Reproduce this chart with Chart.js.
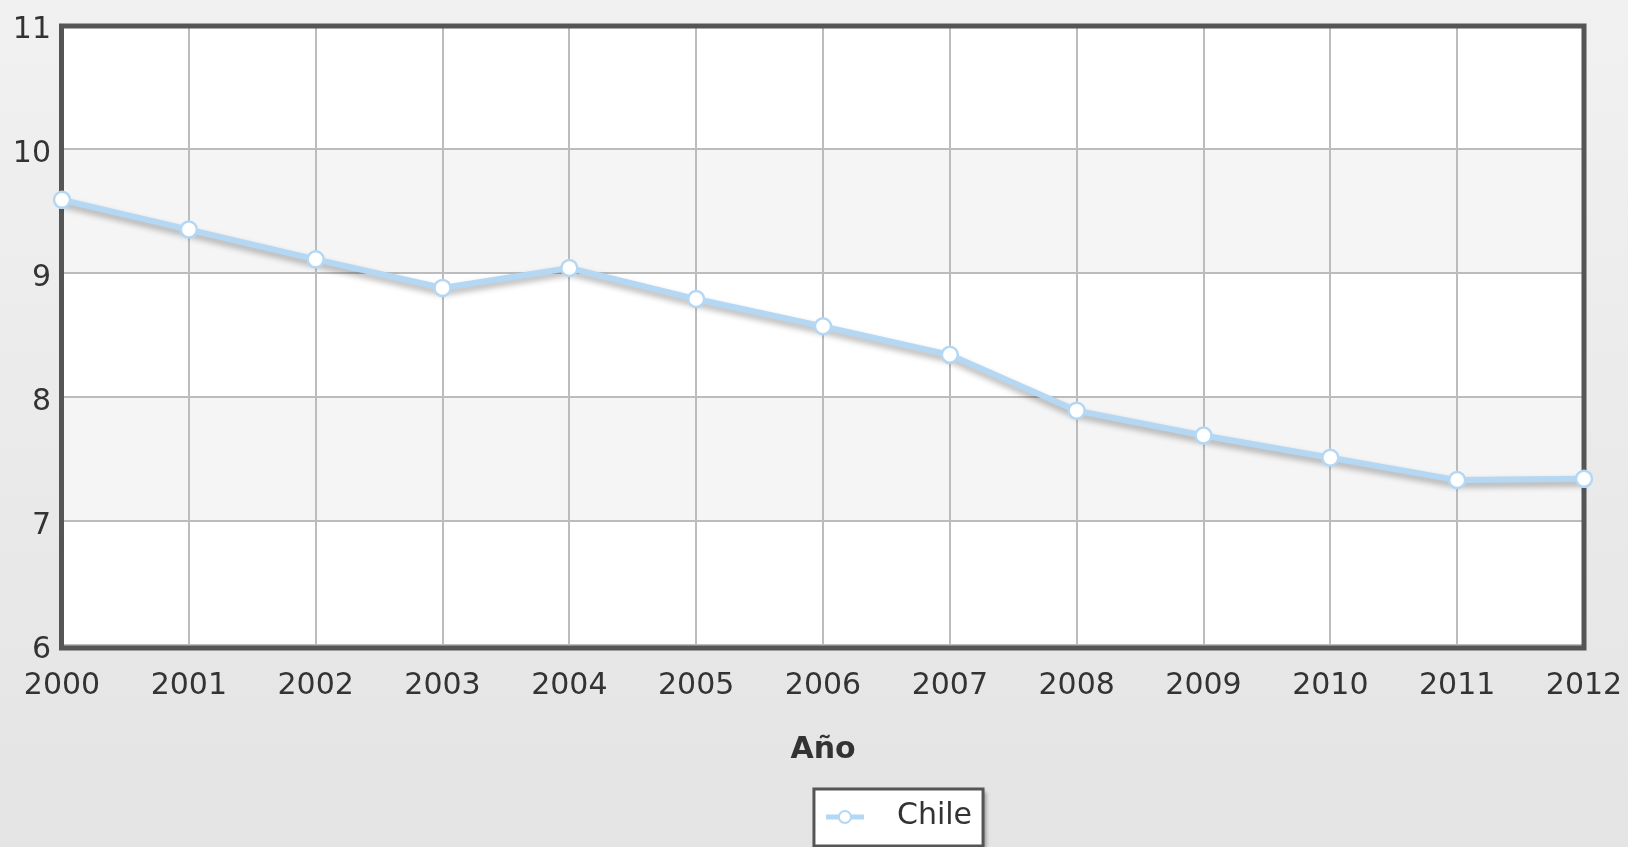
<!DOCTYPE html>
<html>
<head>
<meta charset="utf-8">
<script src="https://cdn.jsdelivr.net/npm/chart.js@4.4.1/dist/chart.umd.min.js"></script>
<style>
  html, body { margin: 0; padding: 0; }
  body { width: 1628px; height: 847px; overflow: hidden;
         background: linear-gradient(to bottom, #f1f1f1 0%, #e4e4e4 100%); }
  #wrap { position: absolute; left: 0; top: 0; width: 1628px; height: 847px; }
</style>
</head>
<body>
<div id="wrap"><canvas id="c" width="1628" height="847"></canvas></div>
<script>
// ---- data ----
const years = ['2000','2001','2002','2003','2004','2005','2006','2007','2008','2009','2010','2011','2012'];
const chileValues = [9.59, 9.35, 9.11, 8.88, 9.04, 8.79, 8.57, 8.34, 7.89, 7.69, 7.51, 7.33, 7.34];
const seriesLabel = 'Chile';
const xAxisTitle = 'Año';
const yMin = 6;
const yMax = 11;
const yStep = 1;

// ---- styles ----
const FONT = 'DejaVu Sans, Verdana, sans-serif';
const LINE_COLOR = '#b4d7f4';
const TEXT_COLOR = '#333333';
const FRAME_COLOR = '#555555';
const GRID_COLOR = '#bcbcbc';
const LEGEND_SHIFT = 107;

// shadow only under the line itself (not the point markers)
const origLineDraw = Chart.LineElement.prototype.draw;
Chart.LineElement.prototype.draw = function (ctx, area) {
  ctx.save();
  ctx.shadowColor = 'rgba(0,0,0,0.32)';
  ctx.shadowBlur = 6;
  ctx.shadowOffsetX = 0;
  ctx.shadowOffsetY = 4;
  origLineDraw.call(this, ctx, area);
  ctx.restore();
};

const bandsPlugin = {
  id: 'bands',
  beforeDraw(chart) {
    const {ctx, chartArea: ca, scales: {y}} = chart;
    ctx.save();
    ctx.fillStyle = '#ffffff';
    ctx.fillRect(ca.left, ca.top, ca.right - ca.left, ca.bottom - ca.top);
    const ticks = y.ticks.map(t => t.value).sort((a, b) => a - b);
    for (let i = 0; i < ticks.length - 1; i++) {
      if (i % 2 === 1) {
        const yb = y.getPixelForValue(ticks[i]);
        const yt = y.getPixelForValue(ticks[i + 1]);
        ctx.fillStyle = '#f5f5f5';
        ctx.fillRect(ca.left, yt, ca.right - ca.left, yb - yt);
      }
    }
    ctx.restore();
  },
  beforeDatasetsDraw(chart) {
    const {ctx, chartArea: ca} = chart;
    ctx.save();
    ctx.strokeStyle = FRAME_COLOR;
    ctx.lineWidth = 5;
    ctx.strokeRect(ca.left - 0.5, ca.top + 1, ca.right - ca.left + 0.5, ca.bottom - ca.top + 2);
    ctx.restore();
  },
  afterLayout(chart) {
    if (chart.legend) {
      chart.legend.left += LEGEND_SHIFT;
      chart.legend.right += LEGEND_SHIFT;
    }
  },
  afterDraw(chart) {
    const lg = chart.legend;
    if (!lg || !lg.legendHitBoxes || !lg.legendHitBoxes.length) return;
    const hb = lg.legendHitBoxes[0];
    const ctx = chart.ctx;
    const cy = hb.top + hb.height / 2;
    // frame
    ctx.save();
    const fx = hb.left - 12, fy = hb.top - 18;
    const fw = hb.width + 23, fh = 846 - fy;
    ctx.shadowColor = 'rgba(0,0,0,0.35)';
    ctx.shadowBlur = 4;
    ctx.shadowOffsetX = 3;
    ctx.shadowOffsetY = 3;
    ctx.fillStyle = '#ffffff';
    ctx.fillRect(fx, fy, fw, fh);
    ctx.shadowColor = 'rgba(0,0,0,0)';
    ctx.strokeStyle = FRAME_COLOR;
    ctx.lineWidth = 3;
    ctx.strokeRect(fx, fy, fw, fh);
    ctx.restore();
    // icon
    ctx.save();
    const iy = cy - 5;
    ctx.strokeStyle = LINE_COLOR;
    ctx.lineWidth = 5;
    ctx.beginPath();
    ctx.moveTo(hb.left, iy);
    ctx.lineTo(hb.left + 38, iy);
    ctx.stroke();
    ctx.beginPath();
    ctx.arc(hb.left + 19, iy, 6, 0, Math.PI * 2);
    ctx.fillStyle = '#ffffff';
    ctx.fill();
    ctx.lineWidth = 2;
    ctx.stroke();
    // text
    ctx.fillStyle = TEXT_COLOR;
    ctx.font = '30px ' + FONT;
    ctx.textBaseline = 'middle';
    ctx.textAlign = 'left';
    ctx.fillText(lg.legendItems[0].text, hb.left + 56 + 15, cy - 6);
    ctx.restore();
  }
};

new Chart(document.getElementById('c'), {
  type: 'line',
  data: {
    labels: years,
    datasets: [{
      label: seriesLabel,
      data: chileValues,
      borderColor: LINE_COLOR,
      borderWidth: 6,
      backgroundColor: '#ffffff',
      pointBackgroundColor: '#ffffff',
      pointBorderColor: LINE_COLOR,
      pointBorderWidth: 2.5,
      pointRadius: 8,
      tension: 0,
      fill: false,
      clip: false
    }]
  },
  options: {
    responsive: false,
    animation: false,
    layout: { padding: { top: 25, right: 44, left: 0, bottom: 0 } },
    plugins: {
      tooltip: { enabled: false },
      legend: {
        display: true,
        position: 'bottom',
        labels: {
          padding: 15,
          boxWidth: 56,
          boxHeight: 30,
          color: 'rgba(0,0,0,0)',
          font: { family: FONT, size: 30 },
          generateLabels(chart) {
            return chart.data.datasets.map((ds, i) => ({
              text: ds.label,
              fillStyle: 'rgba(0,0,0,0)',
              strokeStyle: 'rgba(0,0,0,0)',
              lineWidth: 0,
              datasetIndex: i,
              fontColor: 'rgba(0,0,0,0)'
            }));
          }
        }
      }
    },
    scales: {
      x: {
        type: 'category',
        offset: false,
        border: { display: false },
        grid: { color: GRID_COLOR, lineWidth: 2, drawTicks: false },
        ticks: { color: TEXT_COLOR, font: { family: FONT, size: 30 }, padding: 23, maxRotation: 0, autoSkip: false },
        title: { display: true, text: xAxisTitle, color: TEXT_COLOR,
                 font: { family: FONT, size: 30, weight: 'bold' }, padding: { top: 0, bottom: 24 } },
        afterFit(scale) { scale.height = 147; scale.paddingRight = 0; scale.paddingLeft = 0; }
      },
      y: {
        min: yMin,
        max: yMax,
        border: { display: false },
        grid: { color: GRID_COLOR, lineWidth: 2, drawTicks: false },
        ticks: { stepSize: yStep, color: TEXT_COLOR, font: { family: FONT, size: 30 }, padding: 11, labelOffset: 5 },
        afterFit(scale) { scale.width = 62; scale.paddingTop = 0; scale.paddingBottom = 0; }
      }
    }
  },
  plugins: [bandsPlugin]
});
</script>
</body>
</html>
